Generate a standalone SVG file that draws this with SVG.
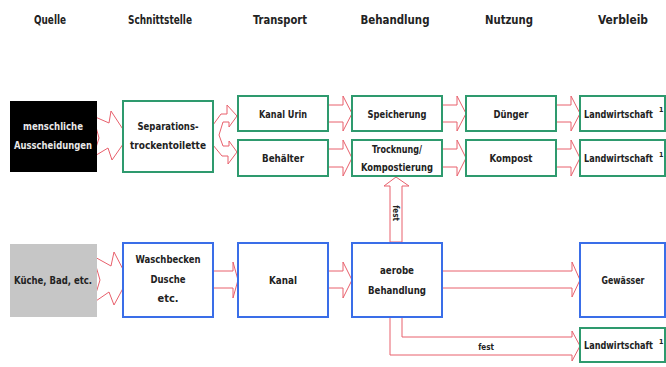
<svg xmlns="http://www.w3.org/2000/svg" width="666" height="367" viewBox="0 0 666 367">
<style>
text{font-family:"Liberation Sans Narrow","DejaVu Sans Condensed","Roboto",sans-serif;font-weight:bold;fill:#222;text-anchor:middle;font-size:10.5px}
.h{font-size:13px}
.g{fill:#fff;stroke:#2e9a6e;stroke-width:2}
.b{fill:#fff;stroke:#3a6ee8;stroke-width:2}
.a{fill:#fff;stroke:#e8606c;stroke-width:1}
.l{text-anchor:start}
.w{fill:#e8e8e8}
.s{font-size:7px;text-anchor:start}
</style>
<rect width="666" height="367" fill="#fff"/>
<g id="headers">
<text class="h" x="50" y="24" textLength="32" lengthAdjust="spacingAndGlyphs">Quelle</text>
<text class="h" x="160" y="24" textLength="64" lengthAdjust="spacingAndGlyphs">Schnittstelle</text>
<text class="h" x="280" y="24" textLength="54" lengthAdjust="spacingAndGlyphs">Transport</text>
<text class="h" x="395" y="24" textLength="69" lengthAdjust="spacingAndGlyphs">Behandlung</text>
<text class="h" x="509" y="24" textLength="48" lengthAdjust="spacingAndGlyphs">Nutzung</text>
<text class="h" x="623" y="24" textLength="50" lengthAdjust="spacingAndGlyphs">Verbleib</text>
</g>
<g id="connectors">
<polygon class="a" points="93,116 109,123 111,111 128,137 112,160 108,148 93,157 99,138"/>
<polygon class="a" points="213,125 221,114 227,114 227,105 237,116 229,127 229,122 223,122 219,135 223,146 229,146 229,141 237,152 228,164 228,156 222,156 213,145"/>
<polygon class="a" points="328,105 343,105 343,96 352,113.5 343,131 343,122 328,122"/>
<polygon class="a" points="442,105 457,105 457,96 466,113.5 457,131 457,122 442,122"/>
<polygon class="a" points="556,105 571,105 571,96 580,113.5 571,131 571,122 556,122"/>
<polygon class="a" points="328,149 343,149 343,140 352,158 343,176 343,167 328,167"/>
<polygon class="a" points="442,149 457,149 457,140 466,158 457,176 457,167 442,167"/>
<polygon class="a" points="556,149 571,149 571,140 580,158 571,176 571,167 556,167"/>
<polygon class="a" points="93,256 111,266 114,252 128,279 114,305 109,292 93,303 100,280"/>
<polygon class="a" points="213,271 233,271 233,262 238,280 233,298 233,288 213,288"/>
<polygon class="a" points="328,271 343,271 343,262 352,280 343,298 343,288 328,288"/>
<polygon class="a" points="442,271 572,271 572,262 580,280 572,297 572,288 442,288"/>
<polygon class="a" points="390,242 390,186 384,186 396,177 409,186 402,186 402,242"/>
<text x="0" y="0" transform="translate(393,213) rotate(90)" style="font-size:8px">fest</text>
<polygon class="a" points="402,317 402,337 572,337 572,331 580,346 572,361 572,355 390,355 390,317"/>
<text x="486" y="350" style="font-size:8px">fest</text>
</g>
<g id="n-mensch"><rect x="10" y="101" width="87" height="71" fill="#000"/><text class="w" x="53" y="130" textLength="60" lengthAdjust="spacingAndGlyphs">menschliche</text><text class="w" x="53" y="149" textLength="78" lengthAdjust="spacingAndGlyphs">Ausscheidungen</text></g>
<g id="n-sep"><rect class="g" x="123" y="101" width="90" height="71"/><text x="168" y="130" textLength="61" lengthAdjust="spacingAndGlyphs">Separations-</text><text x="168" y="149" textLength="76" lengthAdjust="spacingAndGlyphs">trockentoilette</text></g>
<g id="n-kanalurin"><rect class="g" x="238" y="96" width="90" height="35"/><text x="283" y="117.5" textLength="48" lengthAdjust="spacingAndGlyphs">Kanal Urin</text></g>
<g id="n-behaelter"><rect class="g" x="238" y="140" width="90" height="36"/><text x="283" y="162" textLength="42" lengthAdjust="spacingAndGlyphs">Behälter</text></g>
<g id="n-speicherung"><rect class="g" x="352" y="96" width="90" height="35"/><text x="397" y="117.5" textLength="59" lengthAdjust="spacingAndGlyphs">Speicherung</text></g>
<g id="n-trocknung"><rect class="g" x="352" y="140" width="90" height="36"/><text x="397" y="153" textLength="50" lengthAdjust="spacingAndGlyphs">Trocknung/</text><text x="397" y="171" textLength="72" lengthAdjust="spacingAndGlyphs">Kompostierung</text></g>
<g id="n-duenger"><rect class="g" x="466" y="96" width="90" height="35"/><text x="511" y="117.5" textLength="35" lengthAdjust="spacingAndGlyphs">Dünger</text></g>
<g id="n-kompost"><rect class="g" x="466" y="140" width="90" height="36"/><text x="511" y="162" textLength="43" lengthAdjust="spacingAndGlyphs">Kompost</text></g>
<g id="n-lw1"><rect class="g" x="580" y="96" width="85" height="35"/><text class="l" x="584" y="117.5" textLength="69" lengthAdjust="spacingAndGlyphs">Landwirtschaft</text><text class="s" x="659" y="112">1</text></g>
<g id="n-lw2"><rect class="g" x="580" y="140" width="85" height="36"/><text class="l" x="584" y="162" textLength="69" lengthAdjust="spacingAndGlyphs">Landwirtschaft</text><text class="s" x="659" y="156.5">1</text></g>
<g id="n-kueche"><rect x="10" y="244" width="87" height="73" fill="#c6c6c6"/><text x="53" y="284" textLength="78" lengthAdjust="spacingAndGlyphs">Küche, Bad, etc.</text></g>
<g id="n-wasch"><rect class="b" x="123" y="243" width="90" height="74"/><text x="168" y="263" textLength="65" lengthAdjust="spacingAndGlyphs">Waschbecken</text><text x="168" y="283" textLength="35" lengthAdjust="spacingAndGlyphs">Dusche</text><text x="168" y="302" textLength="21" lengthAdjust="spacingAndGlyphs">etc.</text></g>
<g id="n-kanal"><rect class="b" x="238" y="243" width="90" height="74"/><text x="283" y="284" textLength="28" lengthAdjust="spacingAndGlyphs">Kanal</text></g>
<g id="n-aerob"><rect class="b" x="352" y="243" width="90" height="74"/><text x="397" y="274" textLength="34" lengthAdjust="spacingAndGlyphs">aerobe</text><text x="397" y="294" textLength="58" lengthAdjust="spacingAndGlyphs">Behandlung</text></g>
<g id="n-gewaesser"><rect class="b" x="580" y="243" width="85" height="74"/><text x="623" y="284" textLength="43" lengthAdjust="spacingAndGlyphs">Gewässer</text></g>
<g id="n-lw3"><rect class="g" x="580" y="328" width="85" height="34"/><text class="l" x="584" y="349" textLength="69" lengthAdjust="spacingAndGlyphs">Landwirtschaft</text><text class="s" x="659" y="343.5">1</text></g>
</svg>
